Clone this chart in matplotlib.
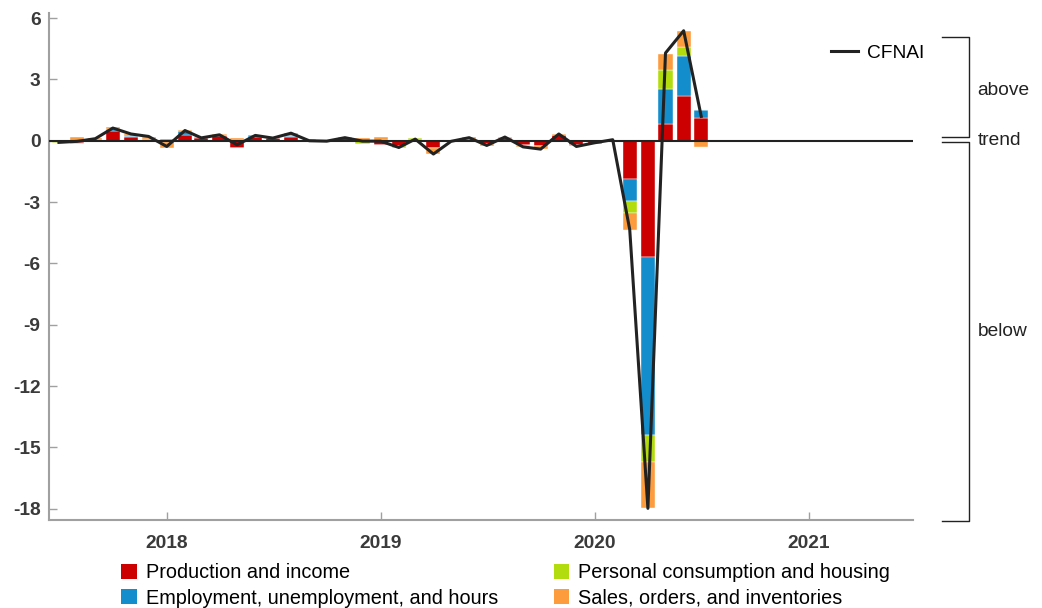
import numpy as np
import pandas as pd
import matplotlib
matplotlib.use('Agg')
import matplotlib.pyplot as plt
import matplotlib.dates as mdates
from matplotlib.lines import Line2D
from matplotlib.patches import Patch
import matplotlib.transforms as mtrans

plt.rcParams['font.family'] = ['Liberation Sans', 'DejaVu Sans']

# monthly data, Jul 2017 - Jul 2020
months = pd.date_range('2017-07-01', '2020-07-01', freq='MS')

production = [-0.05, -0.10, 0.03, 0.48, 0.20, 0.05, -0.05,
              0.26, 0.14, 0.22, -0.35, 0.18, 0.12, 0.20, 0.02, -0.02,
              0.12, 0.00, -0.20, -0.25, 0.02, -0.36, -0.02, 0.03, -0.16,
              0.13, -0.22, -0.25, 0.27, -0.20, -0.15, 0.00,
              -1.86, -5.69, 0.82, 2.20, 1.09]
employment = [0.00, 0.01, -0.02, 0.10, 0.05, 0.05, 0.08,
              0.20, 0.02, 0.08, 0.00, 0.08, 0.02, 0.05, 0.03, 0.00,
              0.05, 0.00, 0.02, 0.02, 0.03, 0.00, 0.00, 0.01, 0.00,
              0.00, 0.00, 0.00, 0.00, 0.00, 0.00, 0.02,
              -1.08, -8.72, 1.71, 1.96, 0.39]
consumption = [-0.05, -0.06, -0.02, 0.00, 0.00, 0.00, -0.02,
               0.00, 0.00, 0.00, 0.05, -0.04, 0.00, 0.00, -0.07, -0.02,
               0.00, -0.17, 0.00, -0.10, 0.08, 0.00, 0.00, 0.00, 0.00,
               0.00, -0.03, -0.02, 0.00, 0.00, 0.00, 0.00,
               -0.60, -1.30, 0.94, 0.41, 0.03]
sales = [0.02, 0.18, 0.10, 0.10, 0.10, 0.10, -0.30,
         0.06, 0.00, 0.02, 0.10, 0.03, 0.00, 0.13, 0.02, -0.04,
         0.00, 0.15, 0.18, 0.00, 0.00, -0.30, -0.02, 0.12, -0.08,
         0.06, -0.08, -0.15, 0.08, -0.07, 0.06, 0.03,
         -0.81, -2.27, 0.78, 0.78, -0.33]
cfnai = [-0.08, -0.03, 0.10, 0.62, 0.33, 0.21, -0.28,
         0.50, 0.14, 0.29, -0.20, 0.26, 0.13, 0.37, 0.00, -0.02,
         0.15, -0.02, -0.02, -0.33, 0.08, -0.65, -0.03, 0.15, -0.23,
         0.18, -0.30, -0.41, 0.33, -0.28, -0.10, 0.05,
         -4.35, -17.98, 4.29, 5.38, 1.19]

labels = ['Production and income', 'Employment, unemployment, and hours',
          'Personal consumption and housing', 'Sales, orders, and inventories']
colors = ['#cc0000', '#138dcb', '#b3dc0e', '#fd9c3d']
components = [production, employment, consumption, sales]

fig = plt.figure(figsize=(10.42, 6.08), dpi=100)
ax = fig.add_axes([0.047, 0.1447, 0.829, 0.834])

x = mdates.date2num(months)
pos_base = np.zeros(len(x))
neg_base = np.zeros(len(x))
for vals, col in zip(components, colors):
    v = np.array(vals)
    pos = np.where(v > 0, v, 0)
    neg = np.where(v < 0, v, 0)
    ax.bar(x, pos, bottom=pos_base, width=24, color=col, zorder=2,
           edgecolor='white', linewidth=0.3)
    ax.bar(x, neg, bottom=neg_base, width=24, color=col, zorder=2,
           edgecolor='white', linewidth=0.3)
    pos_base += pos
    neg_base += neg

ax.axhline(0, color='#222222', lw=1.5, zorder=3)
ax.plot(x, cfnai, color='#222222', lw=2.2, zorder=4)

ax.set_xlim(mdates.date2num(pd.Timestamp('2017-06-14')),
            mdates.date2num(pd.Timestamp('2021-06-27')))
ax.set_ylim(-18.55, 6.25)
ax.set_yticks(np.arange(-18, 7, 3))
ax.set_yticklabels([str(t) for t in range(-18, 7, 3)])
ax.xaxis.set_major_locator(mdates.YearLocator())
ax.xaxis.set_major_formatter(mdates.DateFormatter('%Y'))

for s in ['top', 'right']:
    ax.spines[s].set_visible(False)
for s in ['left', 'bottom']:
    ax.spines[s].set_color('#a0a0a0')
    ax.spines[s].set_linewidth(1.5)
ax.tick_params(axis='both', direction='in', length=6, width=1, color='#a0a0a0',
               labelsize=13.8, labelcolor='#3a3a3a')
ax.tick_params(axis='y', pad=6)
ax.tick_params(axis='x', pad=11)
for lab in ax.get_xticklabels() + ax.get_yticklabels():
    lab.set_fontweight('bold')

# CFNAI legend
ax.legend(handles=[Line2D([], [], color='#222222', lw=2.2)], labels=['CFNAI'],
          loc='center left', bbox_to_anchor=(0.905, 0.921), frameon=False,
          fontsize=13.8, handlelength=1.4, handletextpad=0.5,
          borderpad=0, borderaxespad=0)

# above / trend / below brackets
tr = mtrans.blended_transform_factory(ax.transAxes, ax.transData)
bk = dict(color='#222222', lw=1, transform=tr, clip_on=False)
x0, x1 = 1.0336, 1.0648
ax.plot([x0, x1, x1, x0], [5.05, 5.05, 0.2, 0.2], **bk)
ax.plot([x0, x1, x1, x0], [-0.08, -0.08, -18.6, -18.6], **bk)
for txt, yv in [('above', 2.45), ('trend', 0.0), ('below', -9.35)]:
    ax.text(1.075, yv, txt, transform=tr, fontsize=13.8, color='#222222',
            va='center', ha='left')

# component legend
handles = [Patch(facecolor=c, edgecolor='none') for c in colors]
fig.legend(handles=handles, labels=labels, ncol=2, loc='upper left',
           bbox_to_anchor=(0.116, 0.074), frameon=False, fontsize=14.3,
           handlelength=0.8, handleheight=0.8, handletextpad=0.45,
           columnspacing=2.8, labelspacing=0.33, borderpad=0, borderaxespad=0)

fig.savefig('out.png', dpi=100)
